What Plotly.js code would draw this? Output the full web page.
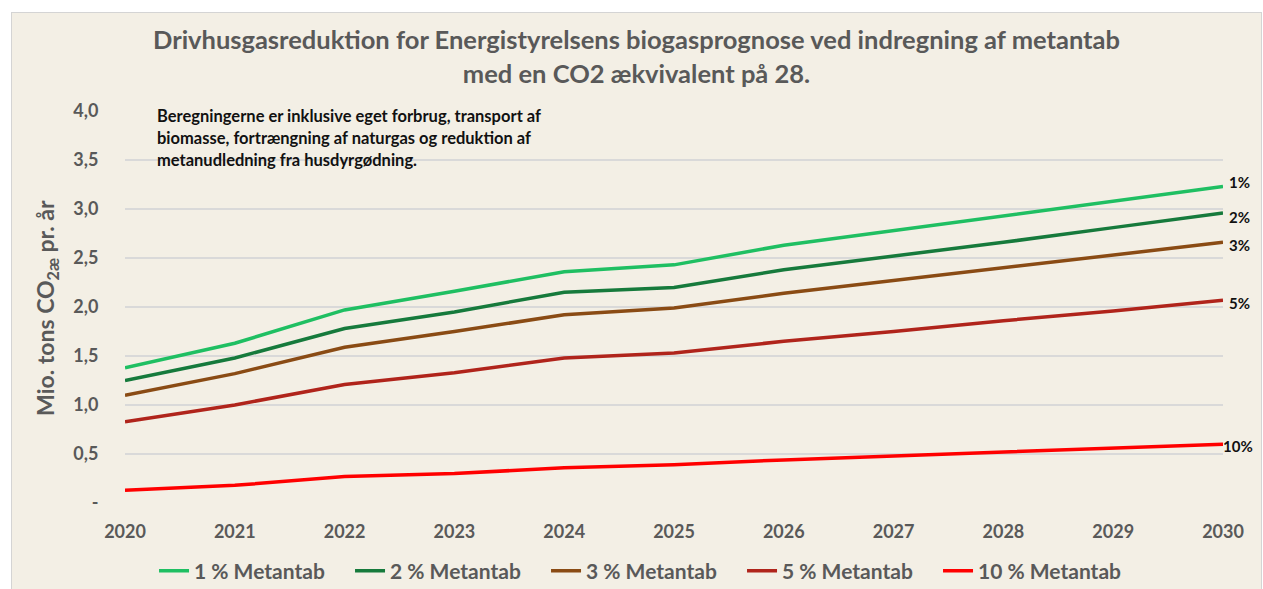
<!DOCTYPE html>
<html>
<head>
<meta charset="utf-8">
<script src="https://cdn.plot.ly/plotly-3.0.1.min.js"></script>
<style>
  html, body { margin: 0; padding: 0; background: #ffffff; overflow: hidden; }
  #chart { position: absolute; left: 11px; top: 12px; width: 1249px; height: 577px;
           border-left: 1px solid #d4d4d4; border-top: 1px solid #d4d4d4; border-right: 1px solid #d4d4d4; }
</style>
</head>
<body>
<div id="chart"></div>
<script>
const years = [2020, 2021, 2022, 2023, 2024, 2025, 2026, 2027, 2028, 2029, 2030];
const seriesNames = ['1 % Metantab', '2 % Metantab', '3 % Metantab', '5 % Metantab', '10 % Metantab'];
const endLabels = ['1%', '2%', '3%', '5%', '10%'];
const metantab1 = [1.38, 1.63, 1.97, 2.16, 2.36, 2.43, 2.63, 2.78, 2.93, 3.08, 3.23];
const metantab2 = [1.25, 1.48, 1.78, 1.95, 2.15, 2.20, 2.38, 2.52, 2.66, 2.81, 2.96];
const metantab3 = [1.10, 1.32, 1.59, 1.75, 1.92, 1.99, 2.14, 2.27, 2.40, 2.53, 2.66];
const metantab5 = [0.83, 1.00, 1.21, 1.33, 1.48, 1.53, 1.65, 1.75, 1.86, 1.96, 2.07];
const metantab10 = [0.13, 0.18, 0.27, 0.30, 0.36, 0.39, 0.44, 0.48, 0.52, 0.56, 0.60];
const yTickVals = [0, 0.5, 1, 1.5, 2, 2.5, 3, 3.5, 4];
const yTickText = ['-', '0,5', '1,0', '1,5', '2,0', '2,5', '3,0', '3,5', '4,0'];
const titleText = 'Drivhusgasreduktion for Energistyrelsens biogasprognose ved indregning af metantab<br>med en CO2 ækvivalent på 28.';
const yTitleText = 'Mio. tons CO<sub>2æ</sub> pr. år';
const noteLines = [
  'Beregningerne er inklusive eget forbrug, transport af',
  'biomasse, fortrængning af naturgas og reduktion af',
  'metanudledning fra husdyrgødning.'
];

const allSeries = [metantab1, metantab2, metantab3, metantab5, metantab10];
const colors = ['#1fbf62', '#167a3c', '#8a4b14', '#b0241b', '#ff0000'];
const labelShift = [4, -4, -3, -3, -2];

const FONT = 'Lato, "Open Sans", sans-serif';
const GRAY = '#595959';

const traces = allSeries.map((vals, i) => ({
  x: years, y: vals, name: seriesNames[i], type: 'scatter', mode: 'lines',
  line: { color: colors[i], width: 3.5 }
}));

const annotations = [];
allSeries.forEach((vals, i) => {
  annotations.push({
    x: years[years.length - 1], y: vals[vals.length - 1], xref: 'x', yref: 'y',
    text: endLabels[i], showarrow: false, xanchor: 'left', yanchor: 'middle',
    xshift: i === 4 ? -2 : 4, yshift: labelShift[i],
    font: { family: FONT, size: 15, color: '#111111', weight: 'bold' }
  });
});
noteLines.forEach((t, i) => {
  annotations.push({
    x: 0.0275, y: 1.0 - i * 0.0561, xref: 'paper', yref: 'paper',
    text: t, showarrow: false, xanchor: 'left', yanchor: 'middle',
    yshift: -5,
    font: { family: FONT, size: 16.5, color: '#111111', weight: 'bold' }
  });
});
annotations.push({
  x: -0.0715, y: 0.499, xref: 'paper', yref: 'paper', text: yTitleText,
  showarrow: false, textangle: -90, xanchor: 'center', yanchor: 'middle',
  font: { family: FONT, size: 23, color: GRAY, weight: 'bold' }
});

const layout = {
  width: 1249, height: 577,
  paper_bgcolor: '#f3efe5', plot_bgcolor: '#f3efe5',
  margin: { l: 113, r: 38, t: 98, b: 87, autoexpand: false },
  title: {
    text: titleText, x: 0.5, xanchor: 'center', y: 0.937, yanchor: 'top',
    font: { family: FONT, size: 25.5, color: GRAY, weight: 'bold' }
  },
  xaxis: {
    range: [2020, 2030], tickvals: years, ticktext: years.map(String),
    showgrid: false, zeroline: false, showline: false,
    ticks: 'outside', ticklen: 12, tickcolor: 'rgba(0,0,0,0)',
    tickfont: { family: FONT, size: 18, color: GRAY, weight: 'bold' }
  },
  yaxis: {
    range: [0, 4], tickvals: yTickVals, ticktext: yTickText,
    showgrid: true, gridcolor: '#d9d9d9', gridwidth: 1.5, zeroline: false, showline: false,
    ticks: 'outside', ticklen: 22, tickcolor: 'rgba(0,0,0,0)',
    tickfont: { family: FONT, size: 18, color: GRAY, weight: 'bold' }
  },
  legend: {
    orientation: 'h', x: 0.4727, xanchor: 'center', y: -0.1735, yanchor: 'middle',
    entrywidth: 151, entrywidthmode: 'pixels',
    font: { family: FONT, size: 21, color: GRAY, weight: 'bold' },
    bgcolor: 'rgba(0,0,0,0)'
  },
  annotations: annotations,
  showlegend: true
};

Plotly.newPlot('chart', traces, layout, { displayModeBar: false, staticPlot: true });
</script>
</body>
</html>
